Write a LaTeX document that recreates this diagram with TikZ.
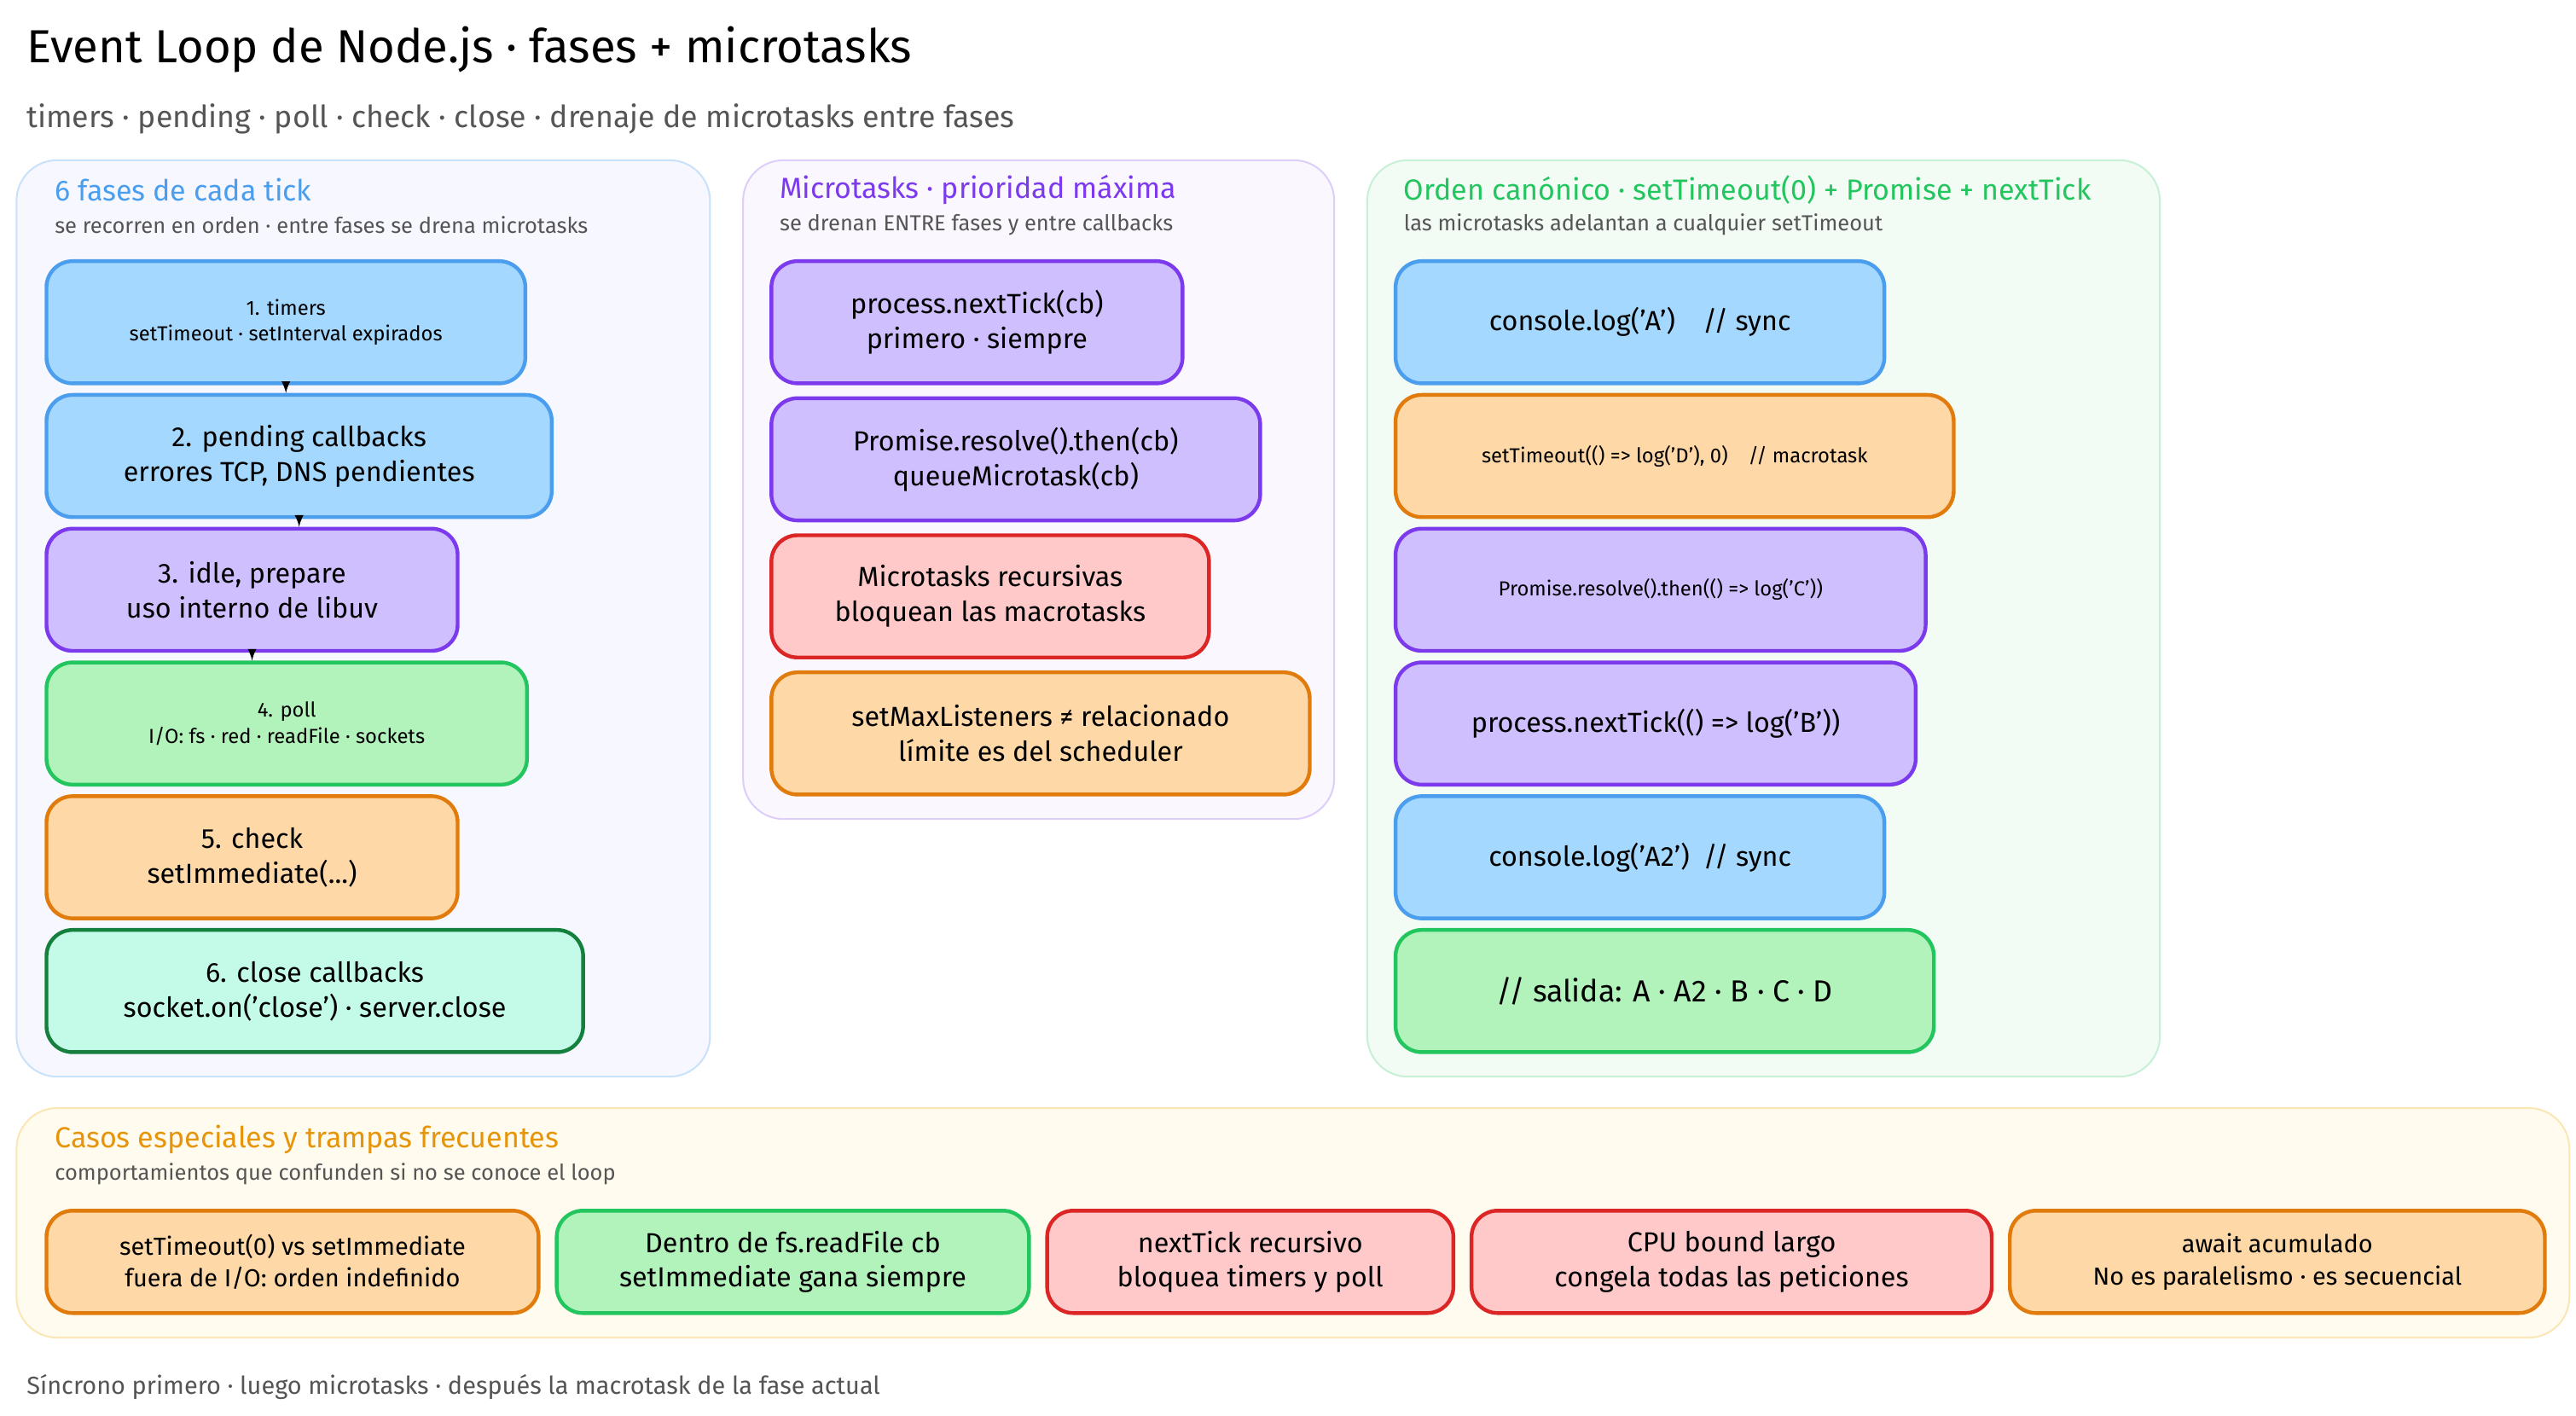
\documentclass[tikz,border=0pt]{standalone}
\usepackage{fontspec}
\setmainfont{Fira Sans}
\usepackage{tikz}

\definecolor{blueF}{HTML}{A5D8FF}\definecolor{blueD}{HTML}{4A9EED}
\definecolor{purF}{HTML}{D0BFFF}\definecolor{purD}{HTML}{7C3AED}
\definecolor{grnF}{HTML}{B2F2BB}\definecolor{grnD}{HTML}{22C55E}
\definecolor{orgF}{HTML}{FFD8A8}\definecolor{orgD}{HTML}{E07B0C}
\definecolor{redF}{HTML}{FFC9C9}\definecolor{redD}{HTML}{DC2626}
\definecolor{mntF}{HTML}{C3FAE8}\definecolor{mntD}{HTML}{15803D}
\definecolor{ylwF}{HTML}{FFFBEF}\definecolor{ylwD}{HTML}{FBE7B5}
\definecolor{txtG}{HTML}{555555}

\tikzset{
  panel/.style={rounded corners=14, line width=0.6pt},
  box/.style={draw, rounded corners=9, line width=1.3pt, align=center, anchor=north west, inner sep=0pt},
  blue/.style={box, fill=blueF, draw=blueD},
  pur/.style={box, fill=purF, draw=purD},
  grn/.style={box, fill=grnF, draw=grnD},
  org/.style={box, fill=orgF, draw=orgD},
  red/.style={box, fill=redF, draw=redD},
  mnt/.style={box, fill=mntF, draw=mntD},
  tall/.style={minimum height=14.8mm},
  flat/.style={minimum height=12.4mm},
  ptitle/.style={anchor=west, font=\fontsize{10}{12}\selectfont},
  psub/.style={anchor=west, text=txtG, font=\fontsize{7.5}{9}\selectfont},
  big/.style={font=\fontsize{9.5}{12}\selectfont},
  small/.style={font=\fontsize{7}{9}\selectfont}
}

\begin{document}
\begin{tikzpicture}[x=0.2mm, y=-0.2mm]
        \useasboundingbox (0,0) rectangle (1560,857);

        % Title
        \node[anchor=west, font=\fontsize{16}{19}\selectfont] (title) at (10,30) {Event Loop de Node.js · fases + microtasks};
        \node[anchor=west, text=txtG, font=\fontsize{10.5}{13}\selectfont] (subtitle) at (10,72) {timers · pending · poll · check · close · drenaje de microtasks entre fases};

        % Panels
        \draw[panel, fill=blue!3, draw=blueD!30] (10,97) rectangle (430,652);
        \draw[panel, fill=purD!4, draw=purD!25] (450,97) rectangle (808,496);
        \draw[panel, fill=grnD!6, draw=grnD!25] (828,97) rectangle (1308,652);
        \draw[panel, fill=ylwF, draw=ylwD] (10,671) rectangle (1556,810);

        % Phases
        \node[ptitle, text=blueD] (t1) at (27,115) {6 fases de cada tick};
        \node[psub] (s1) at (27,136) {se recorren en orden · entre fases se drena microtasks};
        \node[blue, small, tall, minimum width=58mm] (p1) at (27,157) {1. timers\\setTimeout · setInterval expirados};
        \node[blue, big, tall, minimum width=61.2mm] (p2) at (27,238) {2. pending callbacks\\errores TCP, DNS pendientes};
        \node[pur, big, tall, minimum width=49.8mm] (p3) at (27,319) {3. idle, prepare\\uso interno de libuv};
        \node[grn, small, tall, minimum width=58.2mm] (p4) at (27,400) {4. poll\\I/O: fs · red · readFile · sockets};
        \node[org, big, tall, minimum width=49.8mm] (p5) at (27,481) {5. check\\setImmediate(...)};
        \node[mnt, big, tall, minimum width=65mm] (p6) at (27,562) {6. close callbacks\\socket.on('close') · server.close};

        % Phase order
        \draw[-latex] (p1.south) -- (p1.south |- p2.north);
        \draw[-latex] (p2.south) -- (p2.south |- p3.north);
        \draw[-latex] (p3.south) -- (p3.south |- p4.north);

        % Microtasks
        \node[ptitle, text=purD] (t2) at (466,115) {Microtasks · prioridad máxima};
        \node[psub] (s2) at (466,136) {se drenan ENTRE fases y entre callbacks};
        \node[pur, big, tall, minimum width=49.8mm] (m1) at (466,157) {process.nextTick(cb)\\primero · siempre};
        \node[pur, big, tall, minimum width=59.2mm] (m2) at (466,240) {Promise.resolve().then(cb)\\queueMicrotask(cb)};
        \node[red, big, tall, minimum width=53mm] (m3) at (466,323) {Microtasks recursivas\\bloquean las macrotasks};
        \node[org, big, tall, minimum width=65.2mm] (m4) at (466,406) {setMaxListeners ≠ relacionado\\límite es del scheduler};

        % Canonical order
        \node[ptitle, text=grnD] (t3) at (844,115) {Orden canónico · setTimeout(0) + Promise + nextTick};
        \node[psub] (s3) at (844,136) {las microtasks adelantan a cualquier setTimeout};
        \node[blue, big, tall, minimum width=59.2mm] (c1) at (844,157) {console.log('A')\quad // sync};
        \node[org, small, tall, minimum width=67.6mm] (c2) at (844,238) {setTimeout(() => log('D'), 0)\quad // macrotask};
        \node[pur, small, tall, minimum width=64.2mm] (c3) at (844,319) {Promise.resolve().then(() => log('C'))};
        \node[pur, big, tall, minimum width=63mm] (c4) at (844,400) {process.nextTick(() => log('B'))};
        \node[blue, big, tall, minimum width=59.2mm] (c5) at (844,481) {console.log('A2')\enspace // sync};
        \node[grn, tall, font=\fontsize{10.5}{13}\selectfont, minimum width=65.2mm] (c6) at (844,562) {// salida: A · A2 · B · C · D};

        % Special cases
        \node[ptitle, text=orgD!80!yellow] (t4) at (27,690) {Casos especiales y trampas frecuentes};
        \node[psub] (s4) at (27,711) {comportamientos que confunden si no se conoce el loop};
        \node[org, flat, font=\fontsize{8.5}{11}\selectfont, minimum width=59.6mm] (e1) at (27,732) {setTimeout(0) vs setImmediate\\fuera de I/O: orden indefinido};
        \node[grn, flat, big, minimum width=57.2mm] (e2) at (336,732) {Dentro de fs.readFile cb\\setImmediate gana siempre};
        \node[red, flat, big, minimum width=49.2mm] (e3) at (633,732) {nextTick recursivo\\bloquea timers y poll};
        \node[red, flat, big, minimum width=63mm] (e4) at (890,732) {CPU bound largo\\congela todas las peticiones};
        \node[org, flat, font=\fontsize{8.5}{11}\selectfont, minimum width=64.8mm] (e5) at (1216,732) {await acumulado\\No es paralelismo · es secuencial};

        % Footer
        \node[psub, font=\fontsize{8.5}{10}\selectfont] (foot) at (10,840) {Síncrono primero · luego microtasks · después la macrotask de la fase actual};

    \end{tikzpicture}
\end{document}
